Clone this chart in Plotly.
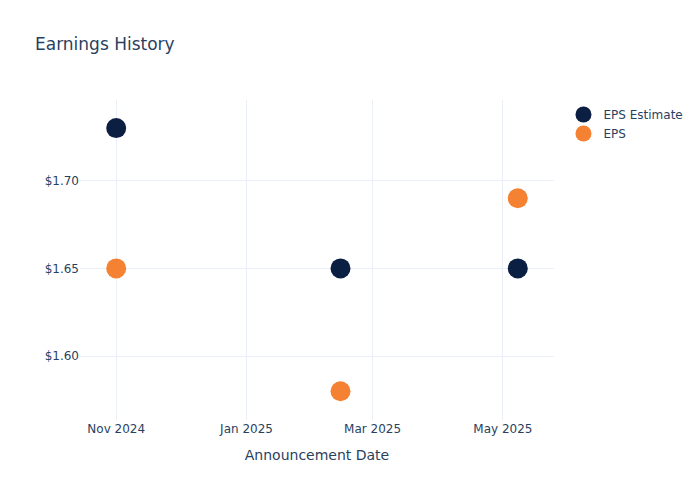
import plotly.graph_objects as go

dates = ["2024-11-01", "2025-02-14", "2025-05-08"]
eps_estimate = [1.73, 1.65, 1.65]
eps_actual = [1.65, 1.58, 1.69]

fig = go.Figure()
fig.add_trace(go.Scatter(x=dates, y=eps_estimate, mode="markers", name="EPS Estimate",
                         marker=dict(color="#0b1f42", size=20)))
fig.add_trace(go.Scatter(x=dates, y=eps_actual, mode="markers", name="EPS",
                         marker=dict(color="#f58232", size=20)))
fig.update_layout(
    template="plotly_white",
    width=700, height=500,
    title=dict(text="Earnings History", x=0.05, y=0.924, font=dict(size=17)),
    xaxis=dict(title=dict(text="Announcement Date"), tickformat="%b %Y"),
    yaxis=dict(tickprefix="$", tickformat=".2f", range=[1.5636, 1.746]),
    font=dict(color="#2a3f5f", family="DejaVu Sans"),
)
fig.write_html("out.html", config={"displayModeBar": False},
               post_script="document.body.style.margin='0px';")
